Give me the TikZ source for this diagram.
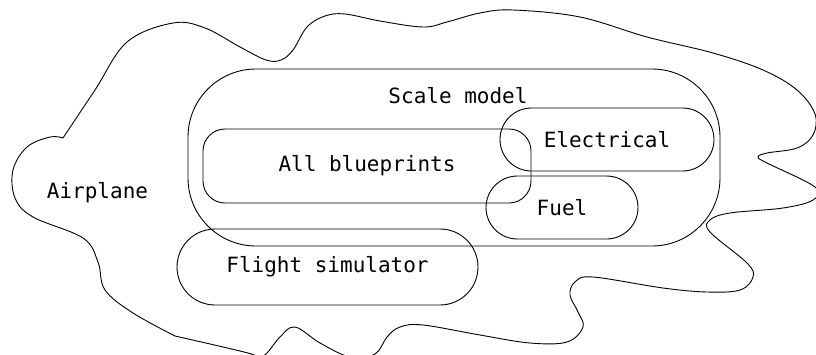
\documentclass[tikz,border=0pt]{standalone}
\usepackage{fontspec}
\setmonofont{DejaVu Sans Mono}
\usetikzlibrary{positioning}
\begin{document}
\begin{tikzpicture}[x=1pt,y=-1pt,line width=0.9pt,
    region/.style={draw,rounded corners=#1,inner sep=0pt},
    lbl/.style={font=\ttfamily\fontsize{21}{25}\selectfont}]
    \useasboundingbox (0,0) rectangle (816,354);
    \begin{scope}
      \clip (0,0) rectangle (816,354);
      \draw plot[smooth,tension=0.6] coordinates {(63,138) (95,90) (127,42) (173,23) (205,28) (240,47) (266,60) (281,60) (293,50) (307,27) (325,16) (345,14) (380,21) (423,27) (447,22) (480,13) (513,10) (580,17) (647,37) (713,53) (763,70) (797,90) (815,114) (813,135) (797,148) (767,153) (758,157) (767,163) (815,187) (813,200) (783,208) (730,213) (710,220) (710,232) (747,263) (753,277) (740,290) (707,292) (663,288) (593,277) (575,282) (570,295) (578,312) (583,327) (567,342) (530,343) (480,335) (423,325) (400,327) (387,337) (375,354) (350,357) (320,343) (295,327) (280,337) (267,353) (258,358) (248,353) (175,336)};
      \draw plot[smooth,tension=0.6] coordinates {(175,336) (133,313) (105,290) (98,262) (83,238) (33,217) (15,198) (13,170) (27,147) (50,137) (63,138)};
    \end{scope}
    \node[region=68,minimum width=532,minimum height=177] (scale) at (454,157.5) {};
    \node[lbl] (scalelbl) at (458,96) {Scale model};
    \node[region=22,lbl,minimum width=328,minimum height=74] (blueprints) at (367,166) {All blueprints};
    \node[region=31.5,lbl,minimum width=214,minimum height=63] (electrical) at (607,139.5) {Electrical};
    \node[region=31.5,lbl,minimum width=152,minimum height=63] (fuel) at (562,207.5) {Fuel};
    \node[region=38,lbl,minimum width=301,minimum height=76] (simulator) at (327.5,267) {Flight simulator};
    \node[lbl] (airplane) at (97.5,193) {Airplane};
  \end{tikzpicture}
\end{document}
